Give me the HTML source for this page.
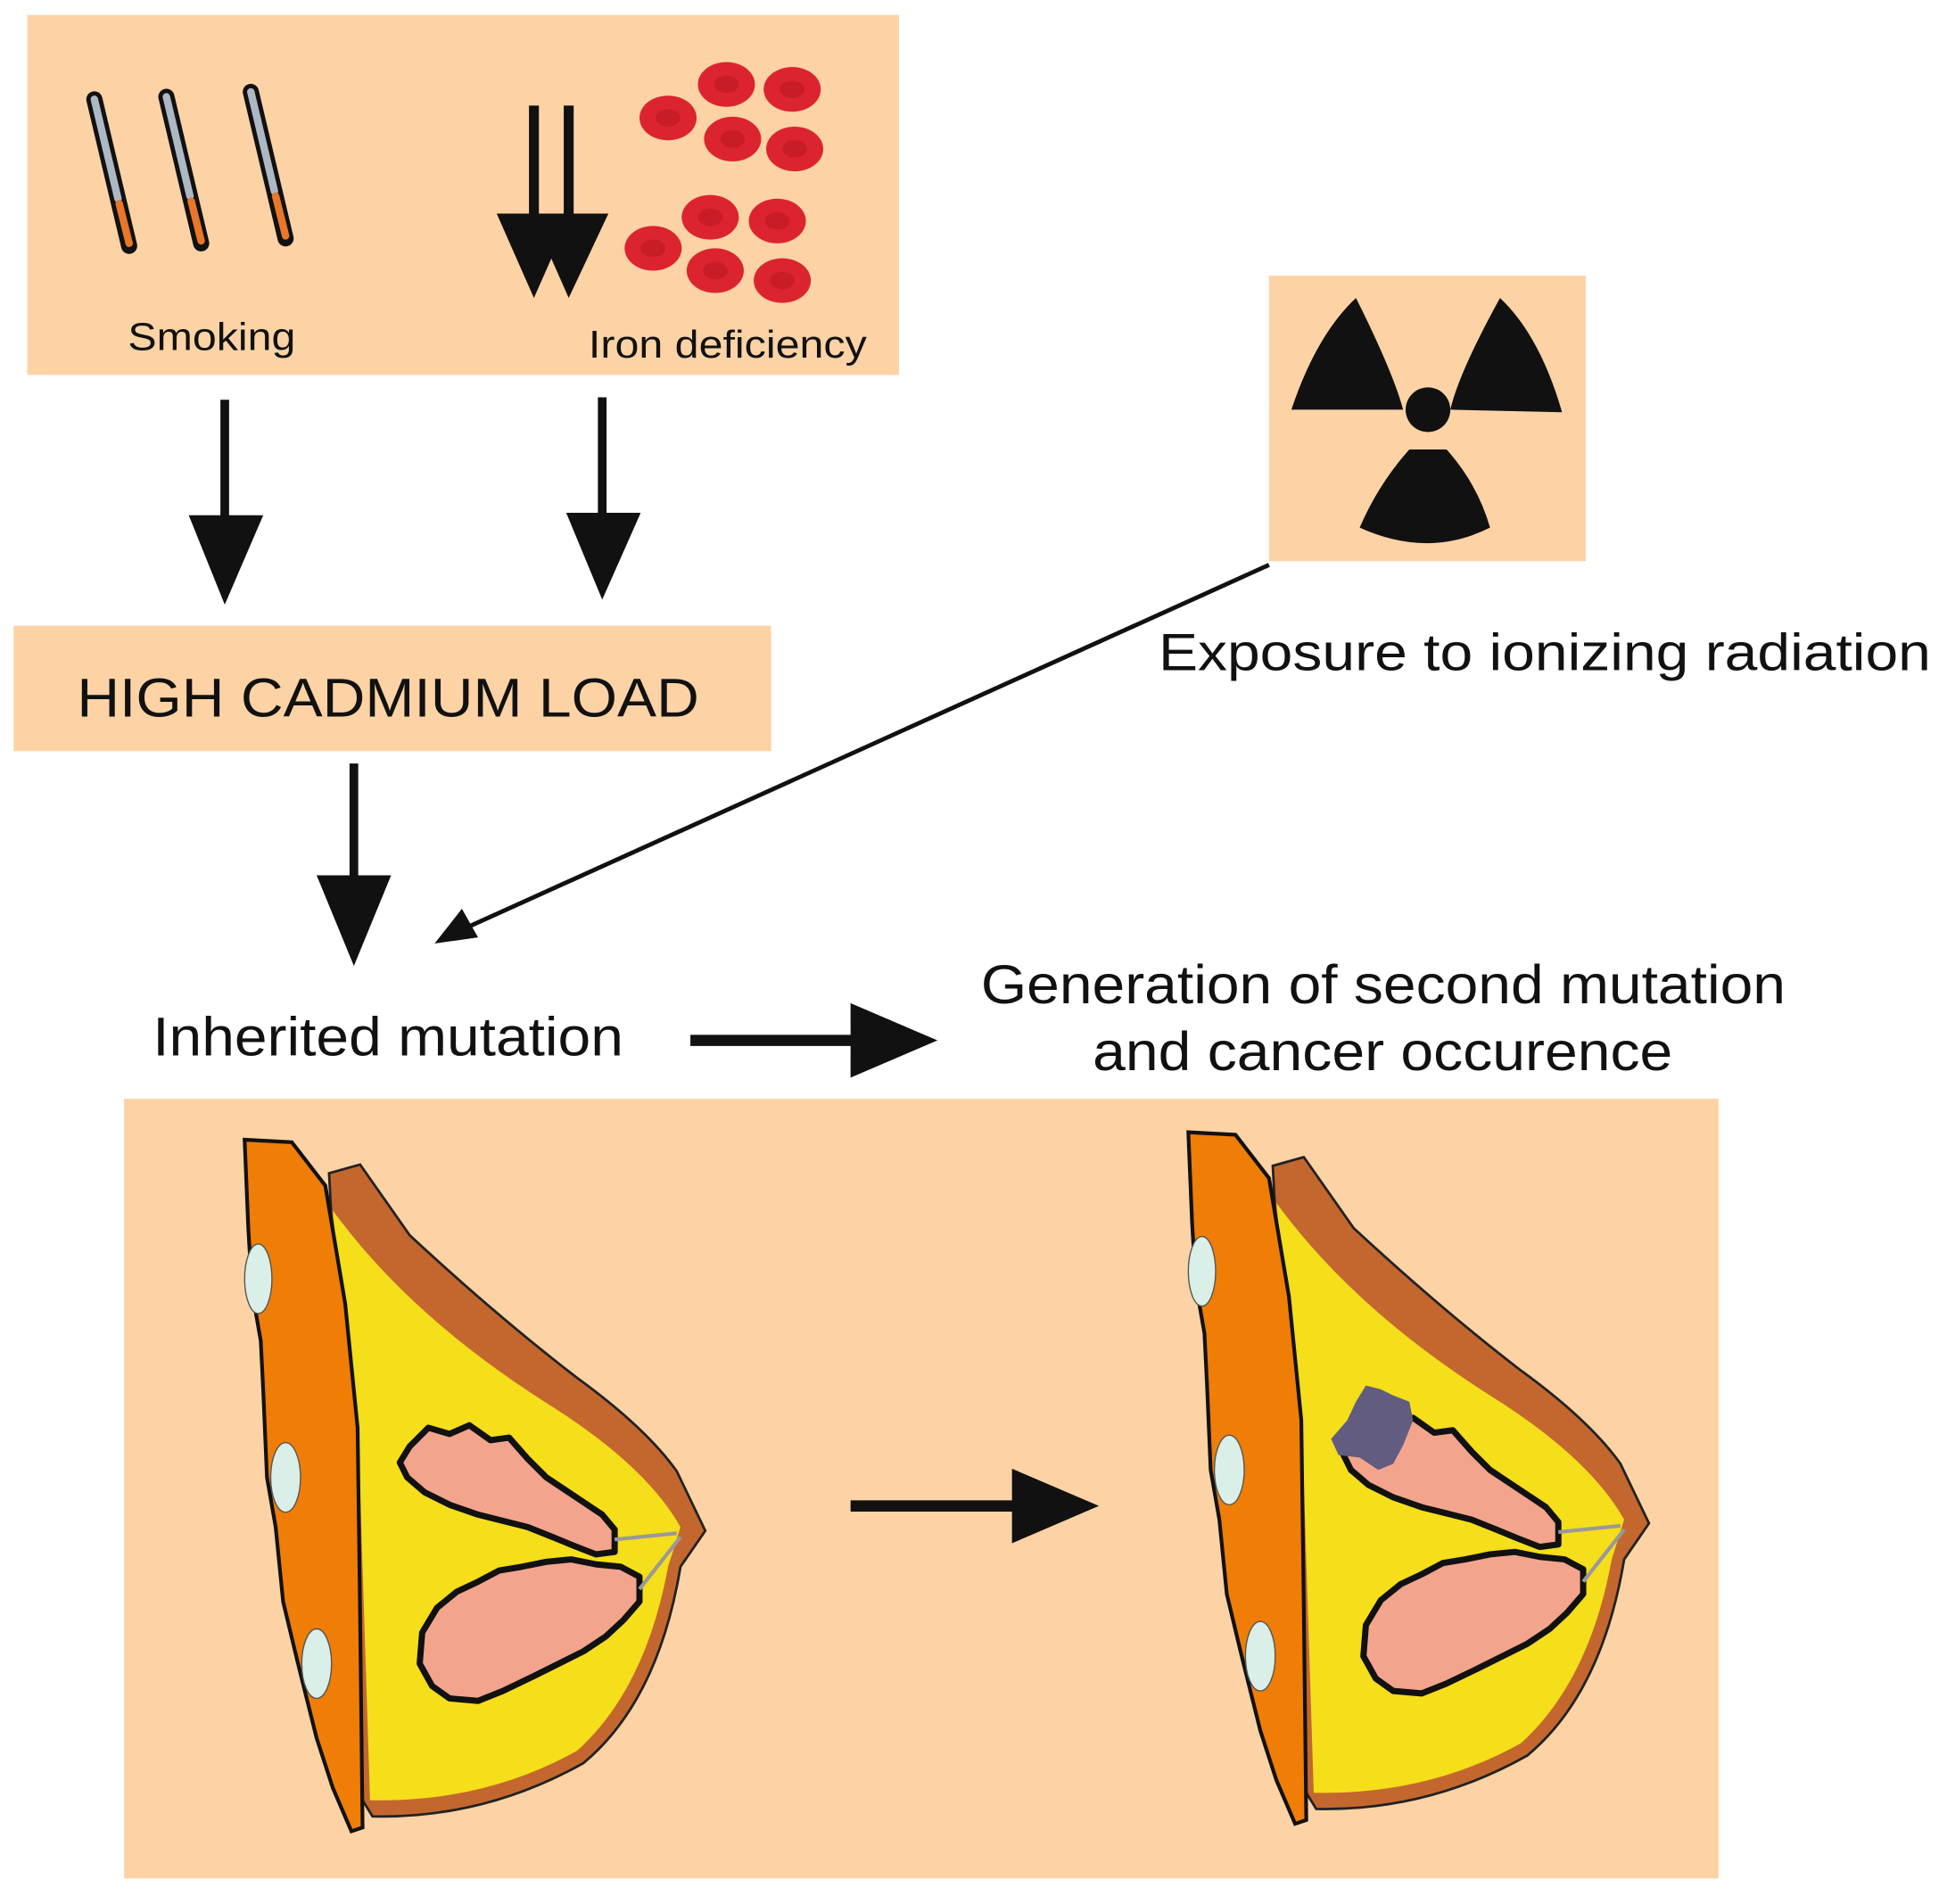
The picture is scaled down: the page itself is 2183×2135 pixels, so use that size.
<!DOCTYPE html>
<html><head><meta charset="utf-8"><style>
html,body{margin:0;padding:0;background:#fff;}
svg{display:block;}
text{font-family:"Liberation Sans",Arial,sans-serif;fill:#111;}
</style></head><body>
<svg width="2183" height="2135" viewBox="0 0 1568 1533.6" preserveAspectRatio="none" xmlns="http://www.w3.org/2000/svg">
<defs>
<g id="cig">
  <line x1="0" y1="0" x2="28" y2="118" stroke="#111" stroke-width="13" stroke-linecap="round"/>
  <line x1="0" y1="0" x2="19" y2="80" stroke="#aeb8c4" stroke-width="6" stroke-linecap="round"/>
  <line x1="20" y1="84" x2="28" y2="116" stroke="#e8772a" stroke-width="6" stroke-linecap="round"/>
</g>
<g id="cell"><ellipse rx="23" ry="18" fill="#dc2430"/><ellipse rx="10" ry="7" fill="#c81c26"/></g>
<g id="breast">
  <path d="M265,945 L290,938 L330,995 Q400,1060 465,1110 Q520,1150 545,1185 L568,1233 L548,1262 Q530,1370 470,1420 Q390,1465 300,1463 L292,1450 Z" fill="#c4672e" stroke="#222" stroke-width="2"/>
  <path d="M268,975 Q330,1060 440,1130 Q520,1180 548,1230 L538,1262 Q520,1360 465,1410 Q390,1452 298,1450 L290,1200 Z" fill="#f5de1a"/>
  <path d="M197,918 L235,920 L262,955 L278,1050 L288,1150 L290,1300 L292,1472 L283,1475 L268,1440 L255,1400 L240,1340 L228,1290 L222,1230 L215,1190 L212,1120 L210,1080 L203,1040 L200,990 Z" fill="#ef7d06" stroke="#111" stroke-width="3"/>
  <ellipse cx="208" cy="1030" rx="11" ry="28" fill="#d9efe8" stroke="#555" stroke-width="1"/>
  <ellipse cx="230" cy="1190" rx="12" ry="28" fill="#d9efe8" stroke="#555" stroke-width="1"/>
  <ellipse cx="255" cy="1340" rx="12" ry="28" fill="#d9efe8" stroke="#555" stroke-width="1"/>
  <path d="M330,1165 L345,1150 L362,1155 L378,1148 L395,1160 L410,1158 L425,1175 L440,1190 L455,1200 L470,1210 L485,1220 L495,1232 L495,1250 L480,1252 L462,1245 L445,1238 L425,1230 L405,1225 L385,1220 L362,1212 L342,1202 L328,1190 L322,1178 Z" fill="#f2a58c" stroke="#111" stroke-width="5" stroke-linejoin="round"/>
  <path d="M352,1295 L368,1282 L385,1274 L402,1265 L420,1262 L440,1258 L460,1256 L480,1260 L500,1262 L515,1270 L515,1290 L502,1305 L488,1318 L470,1330 L450,1340 L430,1350 L405,1362 L385,1370 L362,1368 L348,1358 L338,1340 L340,1315 Z" fill="#f2a58c" stroke="#111" stroke-width="5" stroke-linejoin="round"/>
  <path d="M495,1240 L545,1235 M515,1280 L548,1238" stroke="#999" stroke-width="3"/>
</g>
</defs>

<rect x="22" y="12" width="702" height="290" fill="#fdd3a5"/>
<use href="#cig" transform="translate(76,80)"/>
<use href="#cig" transform="translate(134,78)"/>
<use href="#cig" transform="translate(202,74)"/>
<line x1="430" y1="85" x2="430" y2="180" stroke="#111" stroke-width="8"/>
<line x1="458" y1="85" x2="458" y2="180" stroke="#111" stroke-width="8"/>
<polygon points="400,172 460,172 430,240" fill="#111"/>
<polygon points="428,172 490,172 458,240" fill="#111"/>
<use href="#cell" x="538" y="95"/><use href="#cell" x="585" y="68"/><use href="#cell" x="638" y="72"/>
<use href="#cell" x="590" y="112"/><use href="#cell" x="640" y="120"/>
<use href="#cell" x="526" y="200"/><use href="#cell" x="572" y="175"/><use href="#cell" x="626" y="178"/>
<use href="#cell" x="576" y="218"/><use href="#cell" x="630" y="226"/>
<text x="103" y="282" font-size="31" textLength="135" lengthAdjust="spacingAndGlyphs">Smoking</text>
<text x="474" y="288" font-size="31" textLength="224" lengthAdjust="spacingAndGlyphs">Iron deficiency</text>

<line x1="181" y1="322" x2="181" y2="420" stroke="#111" stroke-width="7"/>
<polygon points="152,415 212,415 181,487" fill="#111"/>
<line x1="485" y1="320" x2="485" y2="418" stroke="#111" stroke-width="7"/>
<polygon points="456,413 516,413 485,483" fill="#111"/>

<rect x="11" y="504" width="610" height="101" fill="#fdd3a5"/>
<text x="62" y="577" font-size="44" textLength="501" lengthAdjust="spacingAndGlyphs">HIGH CADMIUM LOAD</text>

<rect x="1022" y="222" width="255" height="230" fill="#fdd3a5"/>
<circle cx="1150" cy="330" r="18" fill="#111"/>
<g fill="#111">
  <path d="M1092,240 Q1060,270 1040,330 L1130,330 Q1122,300 1092,240 Z"/>
  <path d="M1208,240 Q1240,270 1258,332 L1168,330 Q1175,300 1208,240 Z"/>
  <path d="M1135,362 L1165,362 Q1190,390 1200,425 Q1150,450 1095,425 Q1110,390 1135,362 Z"/>
</g>
<text x="933" y="540" font-size="42" textLength="622" lengthAdjust="spacingAndGlyphs">Exposure to ionizing radiation</text>
<line x1="1022" y1="455" x2="365" y2="752" stroke="#111" stroke-width="3.5"/>
<polygon points="350,760 372,732 385,755" fill="#111"/>

<line x1="285" y1="615" x2="285" y2="710" stroke="#111" stroke-width="7"/>
<polygon points="255,705 315,705 285,778" fill="#111"/>
<text x="123" y="850" font-size="44" textLength="379" lengthAdjust="spacingAndGlyphs">Inherited mutation</text>
<line x1="556" y1="838" x2="690" y2="838" stroke="#111" stroke-width="9"/>
<polygon points="685,808 755,838 685,868" fill="#111"/>
<text x="790" y="808" font-size="44" textLength="648" lengthAdjust="spacingAndGlyphs">Generation of second mutation</text>
<text x="880" y="862" font-size="44" textLength="467" lengthAdjust="spacingAndGlyphs">and cancer occurence</text>

<rect x="100" y="885" width="1284" height="628" fill="#fdd3a5"/>
<use href="#breast"/>
<g transform="translate(760,-6)">
  <use href="#breast"/>
  <path d="M340,1122 L352,1125 L362,1130 L375,1135 L378,1150 L370,1170 L362,1185 L350,1190 L335,1180 L318,1178 L312,1165 L325,1150 L332,1135 Z" fill="#615c80"/>
</g>
<line x1="685" y1="1213" x2="820" y2="1213" stroke="#111" stroke-width="9"/>
<polygon points="815,1183 885,1213 815,1243" fill="#111"/>
</svg>
</body></html>
